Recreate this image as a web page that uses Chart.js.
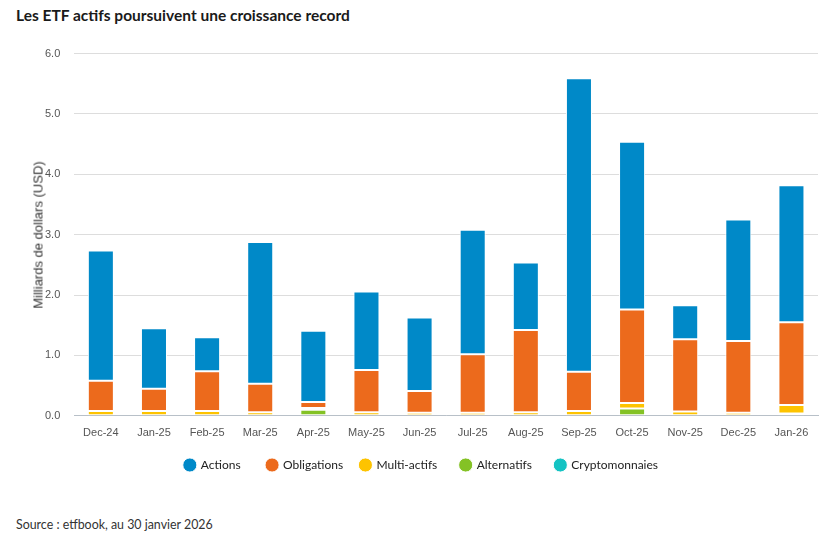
<!DOCTYPE html>
<html>
<head>
<meta charset="utf-8">
<script src="https://cdn.jsdelivr.net/npm/chart.js@4"></script>
<style>
  body { margin: 0; background: #fff; width: 833px; height: 541px; overflow: hidden; position: relative; }
  #title { position: absolute; left: 16px; top: 6px; font: bold 15.5px Lato, sans-serif; color: #1a1a1a; }
  #source { position: absolute; left: 16px; top: 517px; font: 12.4px Lato, sans-serif; color: #333; }
  #wrap { position: absolute; left: 0; top: 33px; width: 833px; height: 448px; }
  #ytitle { position: absolute; left: 38px; top: 235px; transform: translate(-50%, -50%) rotate(-90deg);
    white-space: nowrap; font: 13px "Liberation Sans", Arial, sans-serif; color: #333; }
</style>
</head>
<body>
<div id="title">Les ETF actifs poursuivent une croissance record</div>
<div id="wrap"><canvas id="myChart"></canvas></div>
<div id="ytitle">Milliards de dollars (USD)</div>
<div id="source">Source : etfbook, au 30 janvier 2026</div>
<script>
const months = ['Dec-24', 'Jan-25', 'Feb-25', 'Mar-25', 'Apr-25', 'May-25', 'Jun-25',
  'Jul-25', 'Aug-25', 'Sep-25', 'Oct-25', 'Nov-25', 'Dec-25', 'Jan-26'];
const actions      = [2.16, 1.00, 0.56, 2.35, 1.18, 1.30, 1.22, 2.06, 1.12, 4.86, 2.78, 0.56, 2.01, 2.27];
const obligations  = [0.50, 0.37, 0.66, 0.47, 0.10, 0.70, 0.36, 0.97, 1.36, 0.65, 1.55, 1.20, 1.19, 1.37];
const multiActifs  = [0.08, 0.08, 0.08, 0.06, 0.03, 0.06, 0.05, 0.05, 0.06, 0.08, 0.09, 0.07, 0.05, 0.14];
const alternatifs  = [0, 0, 0, 0, 0.10, 0, 0, 0, 0, 0, 0.12, 0, 0, 0.04];
const crypto       = [0, 0, 0, 0, 0, 0, 0, 0, 0, 0, 0, 0, 0, 0];
const yTicks = [0, 1, 2, 3, 4, 5, 6];

const ctx = document.getElementById('myChart');

function ds(label, data, color) {
  return {
    label: label,
    data: data,
    backgroundColor: color,
    borderColor: '#ffffff',
    borderWidth: 1,
    borderSkipped: false,
    barPercentage: 0.49,
    categoryPercentage: 1.0
  };
}

// first dataset sits at the bottom of the stack, legend is reversed so Actions comes first
// trailing spaces widen the gap between legend items without adding vertical padding
const datasets = [
  ds('Cryptomonnaies  ', crypto, '#14c3c3'),
  ds('Alternatifs     ', alternatifs, '#84c225'),
  ds('Multi-actifs     ', multiActifs, '#fdc300'),
  ds('Obligations   ', obligations, '#ec6a1c'),
  ds('Actions      ', actions, '#0089c8')
];

new Chart(ctx, {
  type: 'bar',
  data: { labels: months, datasets: datasets },
  options: {
    responsive: true,
    maintainAspectRatio: false,
    animation: false,
    layout: { padding: { left: 31, right: 15, top: 18, bottom: 0 } },
    plugins: {
      legend: {
        position: 'bottom',
        reverse: true,
        labels: {
          usePointStyle: true,
          pointStyle: 'circle',
          boxWidth: 10,
          boxHeight: 10,
          padding: 8,
          color: '#222',
          font: { family: 'Lato, sans-serif', size: 12 }
        }
      },
      tooltip: { enabled: false }
    },
    scales: {
      x: {
        stacked: true,
        grid: { display: false, drawTicks: false },
        border: { color: '#b8c0c8', width: 1 },
        ticks: { color: '#555', padding: 11, font: { family: 'Liberation Sans, Arial', size: 11 }, maxRotation: 0 }
      },
      y: {
        stacked: true,
        min: 0,
        max: 6,
        afterBuildTicks: function (axis) { axis.ticks = yTicks.map(v => ({ value: v })); },
        grid: { color: '#dddddd', drawTicks: false },
        border: { display: false },
        ticks: {
          color: '#555',
          padding: 14,
          font: { family: 'Liberation Sans, Arial', size: 11 },
          callback: v => v.toFixed(1)
        }
      }
    }
  }
});
</script>
</body>
</html>
